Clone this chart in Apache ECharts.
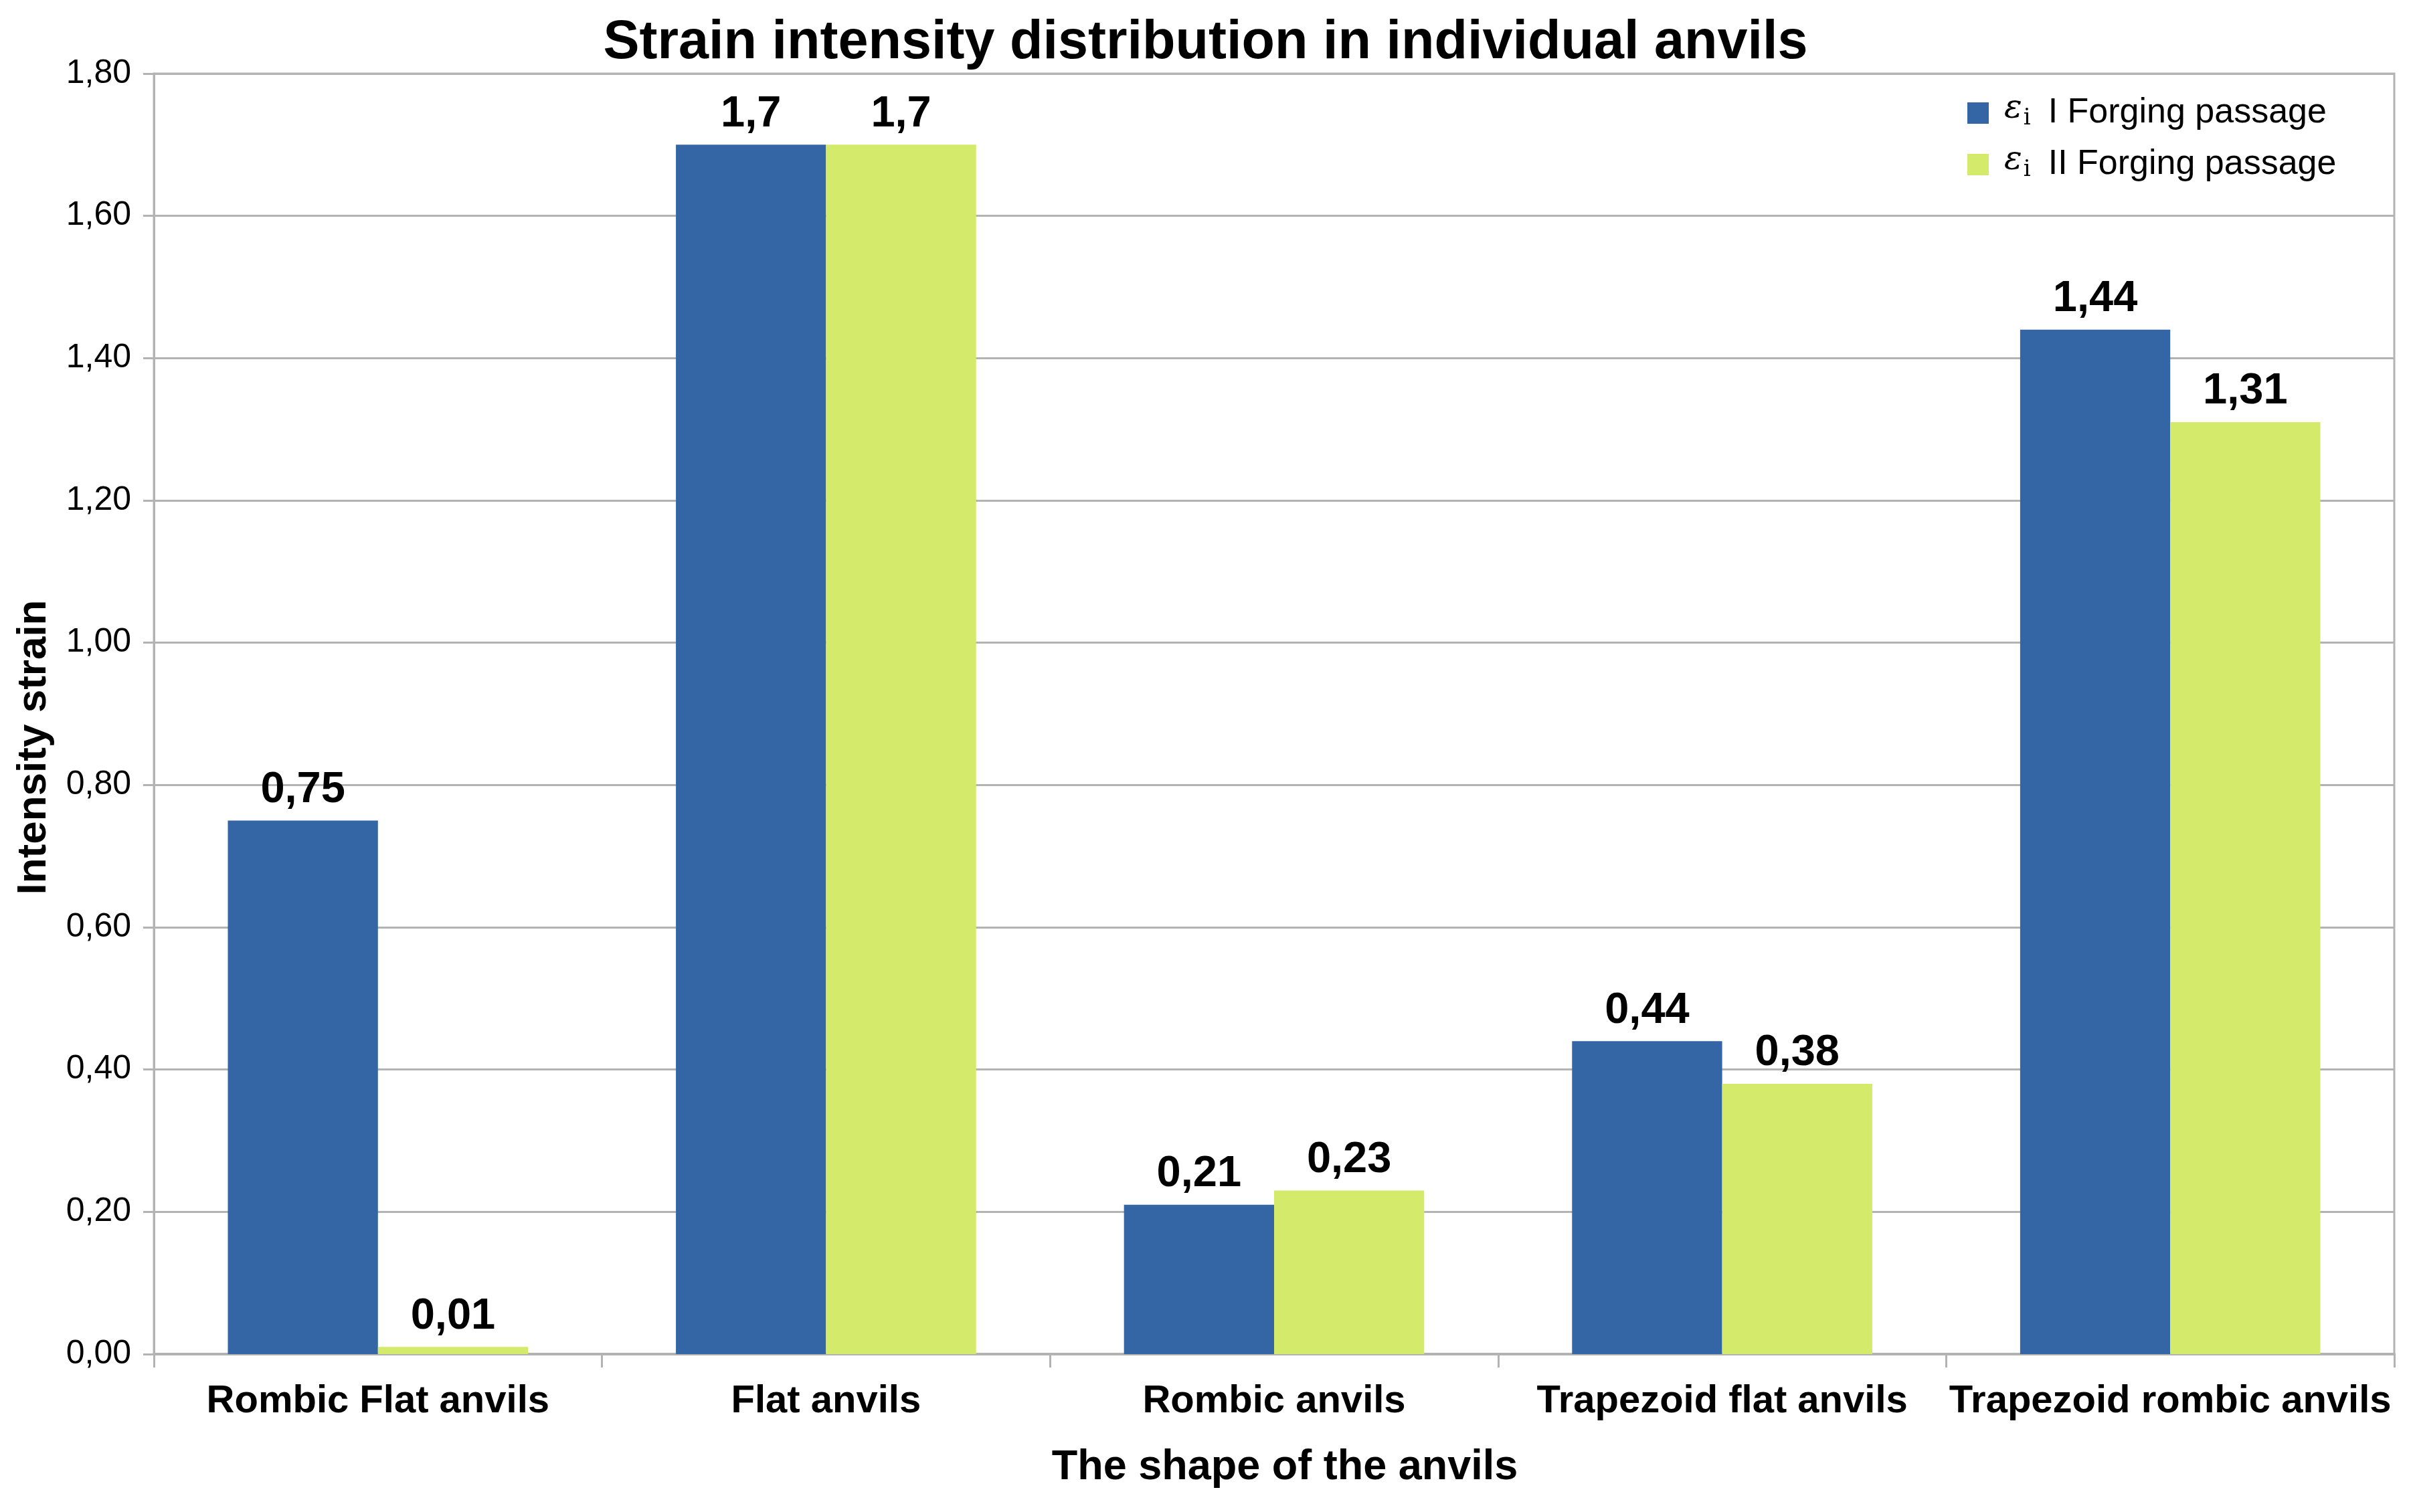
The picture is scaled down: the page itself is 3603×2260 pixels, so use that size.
<!DOCTYPE html>
<html>
<head>
<meta charset="utf-8">
<script src="https://cdn.jsdelivr.net/npm/echarts@6/dist/echarts.min.js"></script>
<style>html,body{margin:0;padding:0;background:#fff}#c{width:3603px;height:2260px}</style>
</head>
<body>
<div id="c"></div>
<script>
var categories = ['Rombic Flat anvils', 'Flat anvils', 'Rombic anvils', 'Trapezoid flat anvils', 'Trapezoid rombic anvils'];
var pass1 = [0.75, 1.7, 0.21, 0.44, 1.44];
var pass2 = [0.01, 1.7, 0.23, 0.38, 1.31];
var seriesNames = ['I Forging passage', 'II Forging passage'];
var yTicks = {min: 0, max: 1.8, interval: 0.2};

var FONT = '"Liberation Sans", Arial, sans-serif';
var chart = echarts.init(document.getElementById('c'));
function lbl(v){ return String(v).replace('.', ','); }
chart.setOption({
  backgroundColor: '#ffffff',
  animation: false,
  title: {
    text: 'Strain intensity distribution in individual anvils',
    left: 'center', top: 24, padding: 0,
    textStyle: {fontFamily: FONT, fontWeight: 'bold', fontSize: 81, color: '#000'}
  },
  legend: {
    orient: 'vertical', left: 2935, top: 133, itemWidth: 32, itemHeight: 32, itemGap: 15,
    icon: 'rect',
    formatter: function(name){ return '{e|ε}{s|i}' + name; },
    textStyle: {fontFamily: FONT, fontSize: 52, color: '#000', lineHeight: 58,
      rich: {
        e: {fontFamily: '"DejaVu Serif", serif', fontStyle: 'italic', fontSize: 50, color: '#000', lineHeight: 58, padding: [0, 0, 12, 18]},
        s: {fontFamily: '"DejaVu Serif", serif', fontSize: 34, color: '#000', lineHeight: 58, padding: [16, 26, 0, 2]}
      }
    }
  },
  grid: {left: 230, right: 25, top: 110, bottom: 236, show: true, borderColor: '#b3b3b3', borderWidth: 3, containLabel: false},
  xAxis: {
    type: 'category', data: categories,
    name: 'The shape of the anvils', nameLocation: 'middle', nameGap: 138,
    nameTextStyle: {fontFamily: FONT, fontWeight: 'bold', fontSize: 63, color: '#000', padding: [0, 0, 0, 32]},
    axisLine: {lineStyle: {color: '#b3b3b3', width: 4}},
    axisTick: {show: true, inside: false, length: 20, alignWithLabel: false, lineStyle: {color: '#b3b3b3', width: 3}},
    axisLabel: {fontFamily: FONT, fontWeight: 'bold', fontSize: 58, color: '#000', margin: 42, interval: 0},
    splitLine: {show: false}
  },
  yAxis: {
    type: 'value', min: yTicks.min, max: yTicks.max, interval: yTicks.interval,
    name: 'Intensity strain', nameLocation: 'middle', nameGap: 148,
    nameTextStyle: {fontFamily: FONT, fontWeight: 'bold', fontSize: 62, color: '#000', padding: [0, 100, 0, 0]},
    axisLine: {show: true, lineStyle: {color: '#b3b3b3', width: 3}},
    axisTick: {show: true, inside: false, length: 16, lineStyle: {color: '#b3b3b3', width: 3}},
    axisLabel: {fontFamily: FONT, fontSize: 50, color: '#000', margin: 34,
      formatter: function(v){ return v.toFixed(2).replace('.', ','); }},
    splitLine: {show: true, lineStyle: {color: '#b3b3b3', width: 3}}
  },
  series: [
    {name: seriesNames[0], type: 'bar', data: pass1, barGap: '0%', barCategoryGap: '33%',
     itemStyle: {color: '#3465a4'},
     label: {show: true, position: 'top', distance: 13, fontFamily: FONT, fontWeight: 'bold', fontSize: 65, color: '#000',
       formatter: function(p){ return lbl(p.value); }}},
    {name: seriesNames[1], type: 'bar', data: pass2, barGap: '0%', barCategoryGap: '33%',
     itemStyle: {color: '#d4ea6b'},
     label: {show: true, position: 'top', distance: 13, fontFamily: FONT, fontWeight: 'bold', fontSize: 65, color: '#000',
       formatter: function(p){ return lbl(p.value); }}}
  ]
});
</script>
</body>
</html>
